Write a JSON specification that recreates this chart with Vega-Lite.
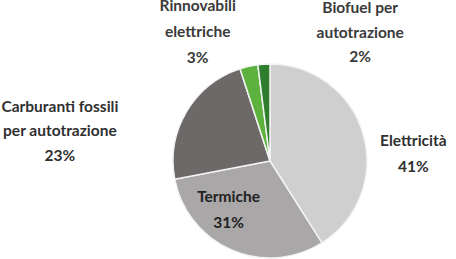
{
  "$schema": "https://vega.github.io/schema/vega-lite/v6.json",
  "autosize": "none",
  "width": 372,
  "height": 196,
  "padding": {"left": 84, "top": 63, "right": 0, "bottom": 0},
  "background": "white",
  "config": {"view": {"stroke": null}},
  "data": {
    "values": [
      {"cat": "Elettricità", "label": "Elettricità\n41%", "v": 41, "ord": 1},
      {"cat": "Termiche", "label": "Termiche\n31%", "v": 31, "ord": 2},
      {"cat": "Carburanti fossili per autotrazione", "label": "Carburanti fossili\nper autotrazione\n23%", "v": 23, "ord": 3},
      {"cat": "Rinnovabili elettriche", "label": "Rinnovabili\nelettriche\n3%", "v": 3, "ord": 4},
      {"cat": "Biofuel per autotrazione", "label": "Biofuel per\nautotrazione\n2%", "v": 2, "ord": 5}
    ]
  },
  "encoding": {
    "theta": {"field": "v", "type": "quantitative", "stack": true},
    "order": {"field": "ord", "type": "quantitative"}
  },
  "layer": [
    {
      "mark": {"type": "arc", "outerRadius": 97, "stroke": "#f4f4f4", "strokeWidth": 1.5},
      "encoding": {
        "color": {
          "field": "cat", "type": "nominal", "legend": null,
          "scale": {
            "domain": ["Elettricità", "Termiche", "Carburanti fossili per autotrazione", "Rinnovabili elettriche", "Biofuel per autotrazione"],
            "range": ["#d0cfcf", "#a9a7a7", "#6e6969", "#5cb23c", "#2f7d2f"]
          }
        }
      }
    },
    {
      "mark": {"type": "text", "radius": 143, "dx": 6, "dy": 20, "font": "Lato", "fontWeight": "bold", "fontSize": 15.5, "lineHeight": 26, "lineBreak": "\n", "color": "#303030", "align": "center", "baseline": "middle"},
      "encoding": {"text": {"condition": {"test": "datum.ord === 1", "field": "label"}, "value": ""}}
    },
    {
      "mark": {"type": "text", "radius": 64, "dx": -16, "dy": -23, "font": "Lato", "fontWeight": "bold", "fontSize": 15.5, "lineHeight": 26, "lineBreak": "\n", "color": "#222222", "align": "center", "baseline": "middle"},
      "encoding": {"text": {"condition": {"test": "datum.ord === 2", "field": "label"}, "value": ""}}
    },
    {
      "mark": {"type": "text", "radius": 150, "dx": -81, "dy": 22, "font": "Lato", "fontWeight": "bold", "fontSize": 15.5, "lineHeight": 24.5, "lineBreak": "\n", "color": "#303030", "align": "center", "baseline": "middle"},
      "encoding": {"text": {"condition": {"test": "datum.ord === 3", "field": "label"}, "value": ""}}
    },
    {
      "mark": {"type": "text", "radius": 148, "dx": -40, "dy": -11, "font": "Lato", "fontWeight": "bold", "fontSize": 15.5, "lineHeight": 26, "lineBreak": "\n", "color": "#3a3a3a", "align": "center", "baseline": "middle"},
      "encoding": {"text": {"condition": {"test": "datum.ord === 4", "field": "label"}, "value": ""}}
    },
    {
      "mark": {"type": "text", "radius": 156, "dx": 100, "dy": 3, "font": "Lato", "fontWeight": "bold", "fontSize": 15.5, "lineHeight": 24.5, "lineBreak": "\n", "color": "#3a3a3a", "align": "center", "baseline": "middle"},
      "encoding": {"text": {"condition": {"test": "datum.ord === 5", "field": "label"}, "value": ""}}
    }
  ]
}
